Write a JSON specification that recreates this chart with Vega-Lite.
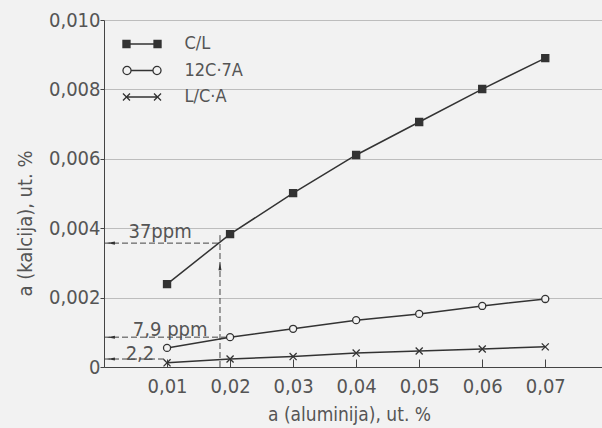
{
  "$schema": "https://vega.github.io/schema/vega-lite/v6.json",
  "width": 498,
  "height": 347,
  "autosize": "none",
  "padding": {"left": 104, "top": 20, "right": 0, "bottom": 61},
  "background": "#f2f2f2",
  "config": {
    "view": {"stroke": null},
    "font": "DejaVu Sans Condensed, DejaVu Sans, sans-serif",
    "axis": {
      "labelFont": "DejaVu Sans Condensed, DejaVu Sans, sans-serif",
      "titleFont": "DejaVu Sans Condensed, DejaVu Sans, sans-serif",
      "labelColor": "#555",
      "titleColor": "#555",
      "titleFontWeight": "normal",
      "domainColor": "#444",
      "tickColor": "#444"
    }
  },
  "datasets": {
    "series": [
      {"s": "C/L", "al": 0.01, "ca": 0.00239},
      {"s": "C/L", "al": 0.02, "ca": 0.00383},
      {"s": "C/L", "al": 0.03, "ca": 0.00501},
      {"s": "C/L", "al": 0.04, "ca": 0.00611},
      {"s": "C/L", "al": 0.05, "ca": 0.00706},
      {"s": "C/L", "al": 0.06, "ca": 0.00801},
      {"s": "C/L", "al": 0.07, "ca": 0.0089},
      {"s": "12C·7A", "al": 0.01, "ca": 0.00055},
      {"s": "12C·7A", "al": 0.02, "ca": 0.00086},
      {"s": "12C·7A", "al": 0.03, "ca": 0.0011},
      {"s": "12C·7A", "al": 0.04, "ca": 0.00135},
      {"s": "12C·7A", "al": 0.05, "ca": 0.00153},
      {"s": "12C·7A", "al": 0.06, "ca": 0.00176},
      {"s": "12C·7A", "al": 0.07, "ca": 0.00196},
      {"s": "L/C·A", "al": 0.01, "ca": 0.00012},
      {"s": "L/C·A", "al": 0.02, "ca": 0.00023},
      {"s": "L/C·A", "al": 0.03, "ca": 0.0003},
      {"s": "L/C·A", "al": 0.04, "ca": 0.0004},
      {"s": "L/C·A", "al": 0.05, "ca": 0.00046},
      {"s": "L/C·A", "al": 0.06, "ca": 0.00052},
      {"s": "L/C·A", "al": 0.07, "ca": 0.00058}
    ],
    "rules": [
      {"x": 0, "x2": 0.0184, "y": 0.00357, "y2": 0.00357},
      {"x": 0, "x2": 0.0195, "y": 0.00086, "y2": 0.00086},
      {"x": 0, "x2": 0.01, "y": 0.00023, "y2": 0.00023},
      {"x": 0.0184, "x2": 0.0184, "y": 0, "y2": 0.0038}
    ],
    "leftArrows": [
      {"x": 0.0011, "y": 0.00357},
      {"x": 0.0011, "y": 0.00086},
      {"x": 0.0011, "y": 0.00023}
    ],
    "upArrows": [
      {"x": 0.0184, "y": 0.0029}
    ],
    "notes": [
      {"t": "37ppm", "x": 0.0089, "y": 0.0039},
      {"t": "7,9 ppm", "x": 0.0105, "y": 0.00107},
      {"t": "2,2", "x": 0.0057, "y": 0.000375}
    ]
  },
  "layer": [
    {
      "data": {"name": "rules"},
      "mark": {"type": "rule", "color": "#444", "strokeWidth": 1, "strokeDash": [6, 3]},
      "encoding": {
        "x": {"field": "x", "type": "quantitative", "scale": {"domain": [0, 0.079], "nice": false},
          "axis": {"values": [0.01, 0.02, 0.03, 0.04, 0.05, 0.06, 0.07], "labelExpr": "replace(format(datum.value, '.2f'), '.', ',')",
            "grid": false, "tickSize": -8, "labelPadding": 17, "labelFontSize": 20, "title": "a (aluminija), ut. %", "titleFontSize": 19,
            "titleX": 245, "titleY": 47, "titleBaseline": "middle", "titleAlign": "center"}},
        "x2": {"field": "x2"},
        "y": {"field": "y", "type": "quantitative", "scale": {"domain": [0, 0.01], "nice": false},
          "axis": {"values": [0, 0.002, 0.004, 0.006, 0.008, 0.01], "labelExpr": "datum.value == 0 ? '0' : replace(format(datum.value, '.3f'), '.', ',')",
            "grid": true, "gridColor": "#bdbdbd", "gridWidth": 1, "tickSize": 4, "labelPadding": 0, "labelFontSize": 20,
            "title": "a (kalcija), ut. %", "titleFontSize": 20, "titleAngle": -90, "titleX": -79, "titleY": 203, "titleBaseline": "middle", "titleAlign": "center"}},
        "y2": {"field": "y2"}
      }
    },
    {
      "data": {"name": "leftArrows"},
      "mark": {"type": "point", "shape": "M-1,0L1,-0.38L1,0.38Z", "size": 64, "filled": true, "color": "#333", "opacity": 1},
      "encoding": {
        "x": {"field": "x", "type": "quantitative"},
        "y": {"field": "y", "type": "quantitative"}
      }
    },
    {
      "data": {"name": "upArrows"},
      "mark": {"type": "point", "shape": "M0,-1L-0.38,1L0.38,1Z", "size": 64, "filled": true, "color": "#333", "opacity": 1},
      "encoding": {
        "x": {"field": "x", "type": "quantitative"},
        "y": {"field": "y", "type": "quantitative"}
      }
    },
    {
      "data": {"name": "notes"},
      "mark": {"type": "text", "fontSize": 20, "color": "#555", "baseline": "middle", "align": "center"},
      "encoding": {
        "x": {"field": "x", "type": "quantitative"},
        "y": {"field": "y", "type": "quantitative"},
        "text": {"field": "t"}
      }
    },
    {
      "data": {"name": "series"},
      "mark": {"type": "line", "color": "#333", "strokeWidth": 1.5},
      "encoding": {
        "x": {"field": "al", "type": "quantitative"},
        "y": {"field": "ca", "type": "quantitative"},
        "detail": {"field": "s"}
      }
    },
    {
      "data": {"name": "series"},
      "mark": {"type": "point", "filled": true, "stroke": "#333", "strokeWidth": 1.3, "size": 50, "opacity": 1},
      "encoding": {
        "x": {"field": "al", "type": "quantitative"},
        "y": {"field": "ca", "type": "quantitative"},
        "shape": {"field": "s", "type": "nominal", "legend": null,
          "scale": {"domain": ["C/L", "12C·7A", "L/C·A"], "range": ["square", "circle", "M-1,-1L1,1M-1,1L1,-1"]}},
        "fill": {"field": "s", "type": "nominal", "legend": null,
          "scale": {"domain": ["C/L", "12C·7A", "L/C·A"], "range": ["#333333", "#f2f2f2", "#333333"]}}
      }
    },
    {
      "data": {"name": "series"},
      "transform": [{"filter": "false"}],
      "mark": {"type": "point", "filled": true, "stroke": "#333", "strokeWidth": 1.3, "size": 729, "opacity": 1},
      "encoding": {
        "shape": {"field": "s", "type": "nominal",
          "scale": {"domain": ["C/L", "12C·7A", "L/C·A"], "range": [
            "M-1.41,-0.26H-0.89V0.26H-1.41ZM-0.89,0H0.89M0.89,-0.26H1.41V0.26H0.89Z",
            "M-0.81,0A0.3,0.3,0,1,1,-1.41,0A0.3,0.3,0,1,1,-0.81,0ZM-0.81,0H0.81M1.41,0A0.3,0.3,0,1,1,0.81,0A0.3,0.3,0,1,1,1.41,0Z",
            "M-1.41,-0.26L-0.89,0.26M-1.41,0.26L-0.89,-0.26M-1.15,0H1.15M0.89,-0.26L1.41,0.26M0.89,0.26L1.41,-0.26"
          ]},
          "legend": {"title": null, "orient": "none", "legendX": 23.5, "legendY": 9.5, "padding": 0, "symbolSize": 729,
            "symbolStrokeWidth": 1.3, "labelFontSize": 18, "labelColor": "#555", "labelOffset": 28,
            "labelFont": "DejaVu Sans Condensed, DejaVu Sans, sans-serif", "rowPadding": 2.5}},
        "fill": {"field": "s", "type": "nominal",
          "scale": {"domain": ["C/L", "12C·7A", "L/C·A"], "range": ["#333333", "#f2f2f2", "#333333"]},
          "legend": {"title": null, "orient": "none", "legendX": 23.5, "legendY": 9.5, "padding": 0, "symbolSize": 729,
            "symbolStrokeWidth": 1.3, "labelFontSize": 18, "labelColor": "#555", "labelOffset": 28,
            "labelFont": "DejaVu Sans Condensed, DejaVu Sans, sans-serif", "rowPadding": 2.5}},
        "stroke": {"field": "s", "type": "nominal",
          "scale": {"domain": ["C/L", "12C·7A", "L/C·A"], "range": ["#333333", "#333333", "#333333"]},
          "legend": {"title": null, "orient": "none", "legendX": 23.5, "legendY": 9.5, "padding": 0, "symbolSize": 729,
            "symbolStrokeWidth": 1.3, "labelFontSize": 18, "labelColor": "#555", "labelOffset": 28,
            "labelFont": "DejaVu Sans Condensed, DejaVu Sans, sans-serif", "rowPadding": 2.5}}
      }
    }
  ],
  "resolve": {"scale": {"shape": "independent", "fill": "independent", "stroke": "independent"}}
}
